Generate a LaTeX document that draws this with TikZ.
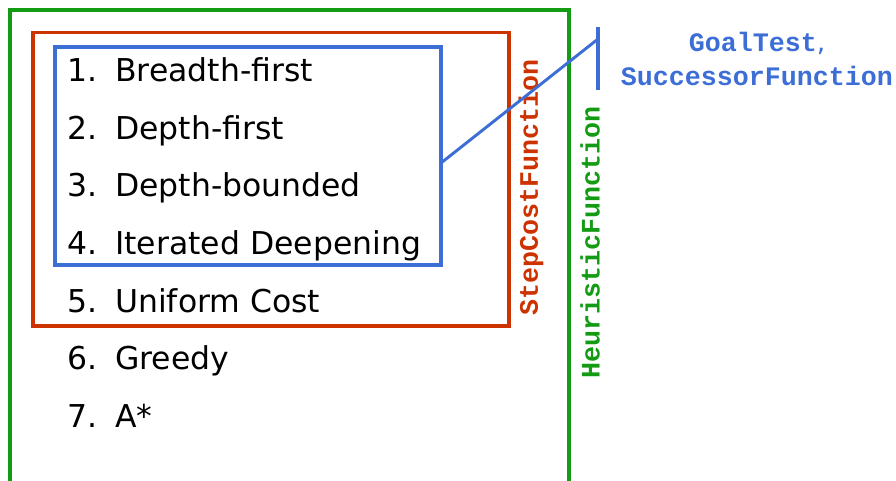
\documentclass[tikz,border=0pt]{standalone}
\usepackage{fontspec}
\setmainfont{DejaVu Sans}
\newfontfamily\monob{Liberation Mono}[BoldFont={* Bold}]
\definecolor{cgreen}{RGB}{20,155,20}
\definecolor{cred}{RGB}{204,51,0}
\definecolor{cblue}{RGB}{60,110,214}
\begin{document}
\begin{tikzpicture}[x=0.75pt,y=-0.75pt,
  frame/.style={line width=2.4pt},
  item/.style={anchor=base west,inner sep=0pt,font=\fontsize{23.6}{28}\selectfont},
  lbl/.style={inner sep=0pt,font=\fontsize{20}{24}\selectfont\monob\bfseries}]
\useasboundingbox (0,0) rectangle (896,481);
% green frame (open at bottom)
\draw[frame,cgreen] (10,485) -- (10,10) -- (569,10) -- (569,485);
% red frame
\draw[frame,cred] (33,32.5) rectangle (509,326);
% blue frame
\draw[frame,cblue] (55,47) rectangle (441,265);
% items
\foreach \n/\t [count=\i from 0] in {1./Breadth-first,2./Depth-first,3./Depth-bounded,4./Iterated Deepening,5./Uniform Cost,6./Greedy,7./A*}{
  \node[item] (num\i) at (67,82+57.5*\i) {\n};
  \node[item] (txt\i) at (115,82+57.5*\i) {\t};
}
% labels
\node[lbl,cred,rotate=90] (step) at (531,187.5) {StepCostFunction};
\node[lbl,cgreen,rotate=90] (heur) at (590,242) {HeuristicFunction};
\node[lbl,cblue,align=center] (goal) at (757,59) {GoalTest{\normalfont\fontsize{20}{24}\selectfont,}\\[2pt]SuccessorFunction};
% connector
\coordinate (bt) at (598,27);
\coordinate (bb) at (598,90);
\coordinate (bm) at (598,39);
\coordinate (bx) at (441,163);
\draw[cblue,line width=2.4pt] (bt) -- (bb);
\draw[cblue,line width=2.2pt] (bx) -- (bm);
\end{tikzpicture}
\end{document}
